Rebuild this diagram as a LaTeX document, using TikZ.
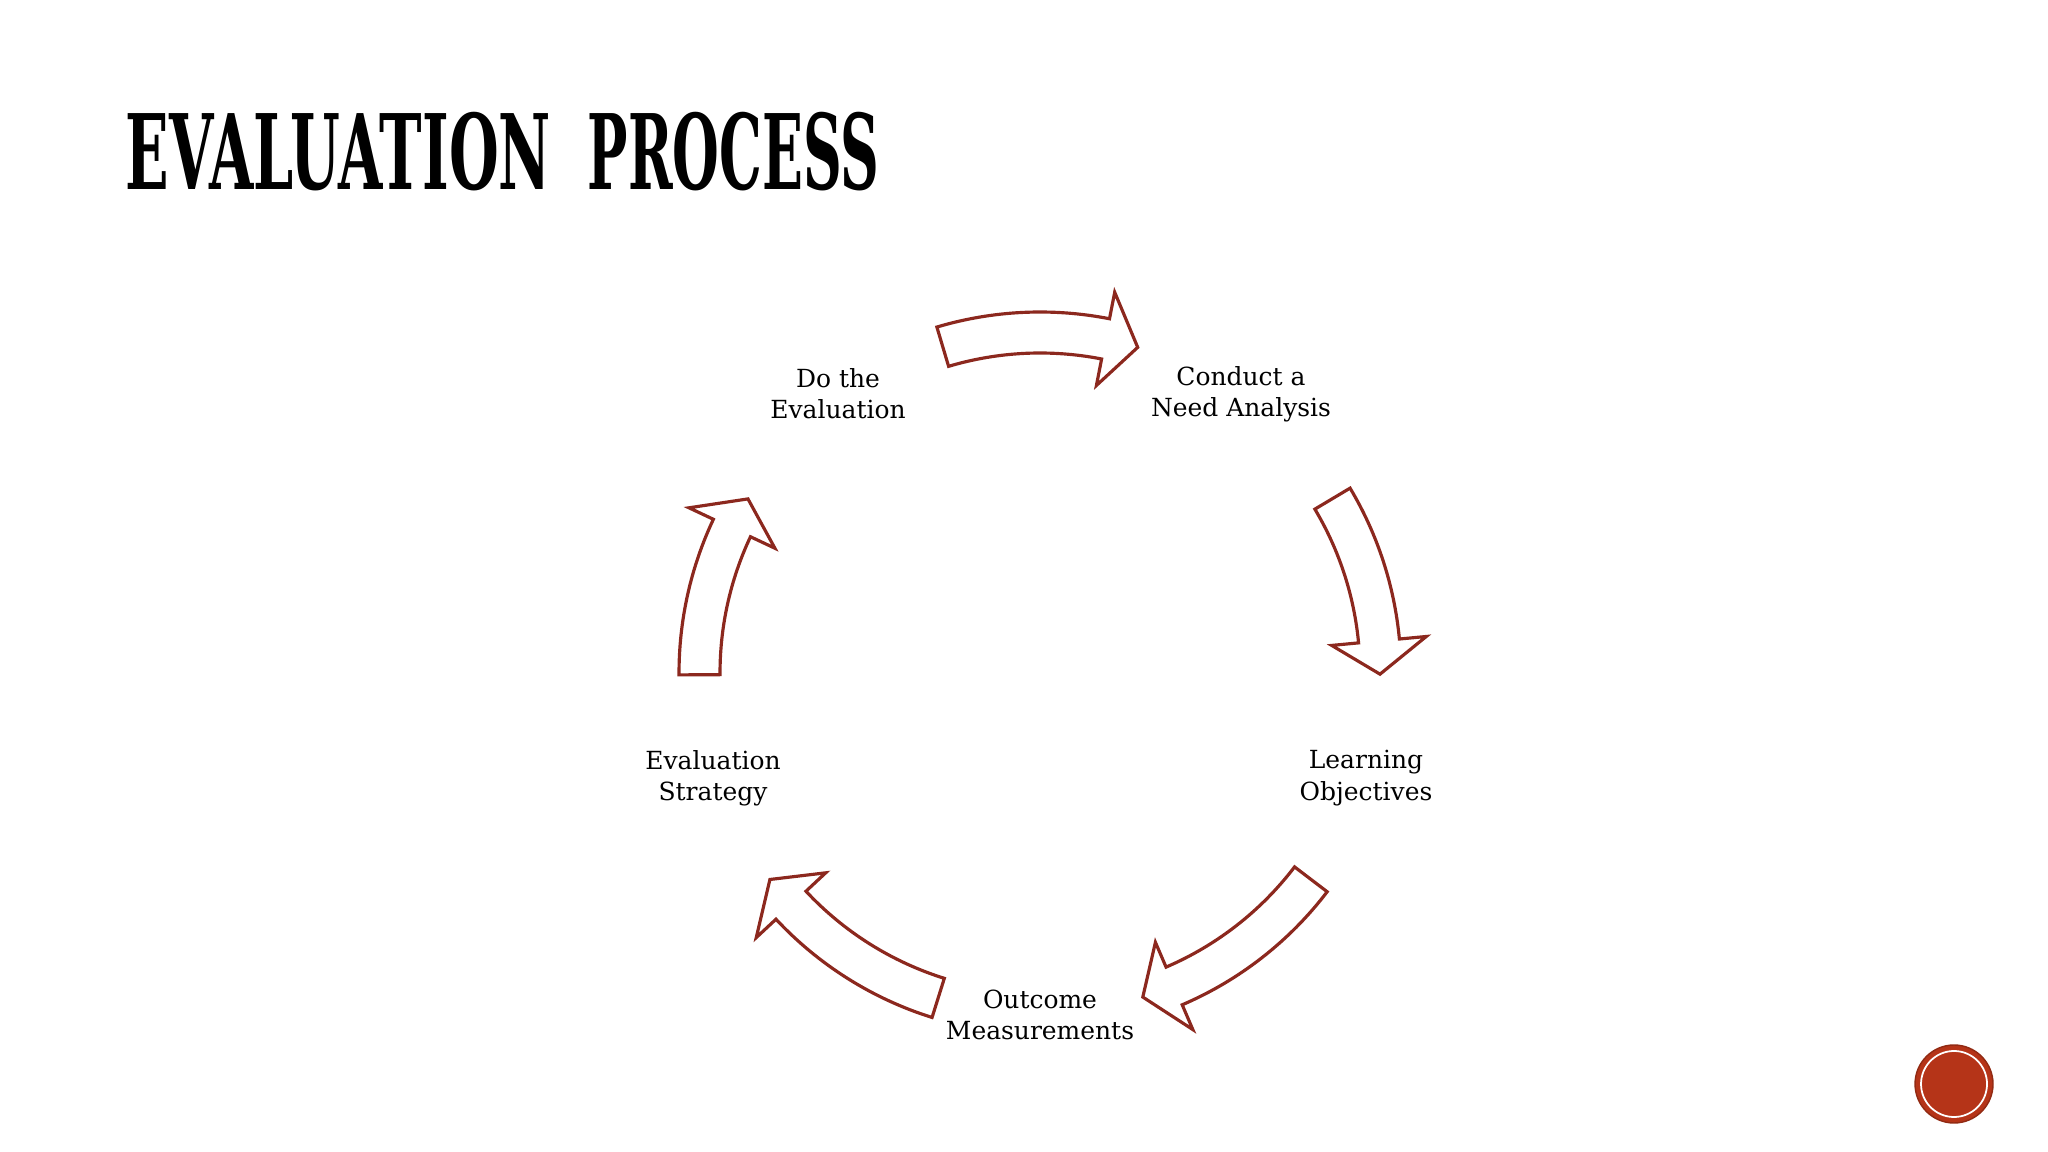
\documentclass[tikz,border=0pt]{standalone}
\usepackage{fontspec}
\usepackage{graphicx}
\setmainfont{DejaVu Serif}
\usetikzlibrary{positioning}

\definecolor{arrowred}{RGB}{140,40,30}
\definecolor{slidered}{RGB}{181,52,24}

\tikzstyle{steplabel} = [align=center, font=\fontsize{7.1}{8.9}\selectfont, inner sep=0pt]
\tikzstyle{arcarrow} = [draw=arrowred, fill=white, line width=0.9pt, line join=miter]

% curved block arrow round the hub, from angle #1 to its point at angle #2
\newcommand{\blockarc}[2]{%
  \pgfmathsetmacro{\notch}{#2-5.6}
  \draw[arcarrow] ([shift={(hub)}]#1:361) arc[start angle=#1, end angle=\notch, radius=361]
    -- ([shift={(hub)}]\notch:388) -- ([shift={(hub)}]#2:340)
    -- ([shift={(hub)}]\notch:293) -- ([shift={(hub)}]\notch:320)
    arc[start angle=\notch, end angle=#1, radius=320] -- cycle;
}

\begin{document}
\begin{tikzpicture}[x=0.1mm, y=-0.1mm]
  \useasboundingbox (0,0) rectangle (2048,1152);

  \node[anchor=north west, inner sep=0pt] (title) at (125,111)
    {\bfseries\resizebox{121pt}{22pt}{EVALUATION}\hspace{10.5pt}\resizebox{83pt}{22pt}{PROCESS}};

  \coordinate (hub) at (1040,673);

  \node[steplabel] (doeval) at (838,394) {Do the\\Evaluation};
  \node[steplabel] (needanalysis) at (1241,394) {Conduct a\\Need Analysis};
  \node[steplabel] (objectives) at (1366,778) {Learning\\Objectives};
  \node[steplabel] (measurements) at (1040,1015) {Outcome\\Measurements};
  \node[steplabel] (strategy) at (713,778) {Evaluation\\Strategy};

  \foreach \from/\to in {-106.6/-73.3, -30.8/0.2, 37.3/72.4, 107.4/142.6, 179.7/210.8}
    \blockarc{\from}{\to};

  % slide badge
  \filldraw[fill=slidered, draw=slidered!80!black, line width=0.4pt] (1954,1084) circle (39);
  \draw[white, line width=0.5pt] (1954,1084) circle (33);
\end{tikzpicture}
\end{document}
